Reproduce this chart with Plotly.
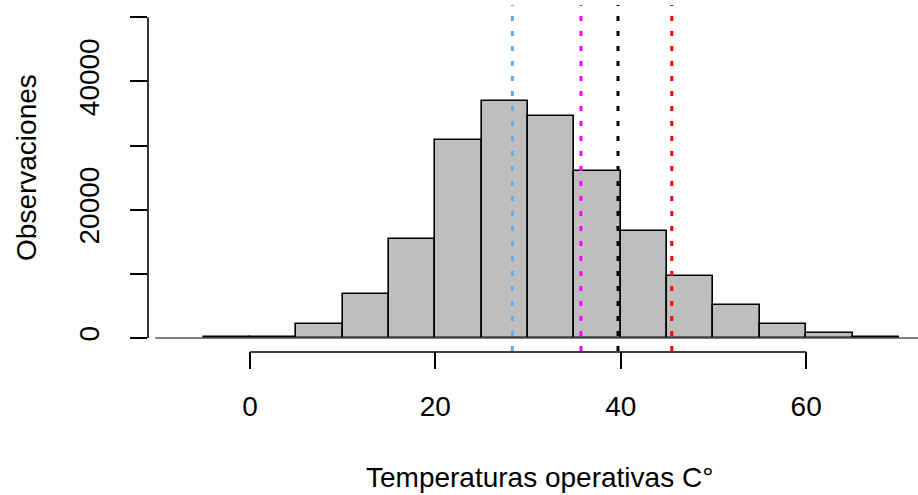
import plotly.graph_objects as go

# Histogram bins (temperature, °C) and counts
bin_edges = [-5, 0, 5, 10, 15, 20, 25, 30, 35, 40, 45, 50, 55, 60, 65, 70]
counts = [150, 200, 2150, 6800, 15450, 30900, 36950, 34600, 26050,
          16700, 9700, 5100, 2150, 750, 200]

# Reference vertical lines (temperature values) and colours
vline_values = [28.3, 35.7, 39.7, 45.5]
vline_colors = ["#5CACEE", "#FF00FF", "#000000", "#FF0000"]

x_tick_vals = [0, 20, 40, 60]
y_tick_vals = [0, 10000, 20000, 30000, 40000, 50000]
y_tick_text = ["0", "", "20000", "", "40000", ""]

x_title = "Temperaturas operativas C°"
y_title = "Observaciones"

centers = [(a + b) / 2 for a, b in zip(bin_edges[:-1], bin_edges[1:])]
widths = [b - a for a, b in zip(bin_edges[:-1], bin_edges[1:])]

FONT = "Liberation Sans, Arial, sans-serif"
FS = 28

fig = go.Figure()
fig.add_trace(go.Bar(
    x=centers, y=counts, width=widths,
    marker=dict(color="#BEBEBE", line=dict(color="#000000", width=1.6)),
    hoverinfo="x+y", showlegend=False,
))

shapes = []
# baseline at 0
shapes.append(dict(type="line", xref="x", yref="y", x0=-10.2, x1=80, y0=0, y1=0,
                   line=dict(color="#555555", width=1.6), layer="above"))
# dotted reference lines
for v, c in zip(vline_values, vline_colors):
    shapes.append(dict(type="line", xref="x", yref="y domain", x0=v, x1=v, y0=0, y1=1,
                       line=dict(color=c, width=3, dash="5px,10px"), layer="above"))
# R-style axis lines spanning first to last tick
shapes.append(dict(type="line", xref="paper", yref="y", x0=0, x1=0,
                   y0=y_tick_vals[0], y1=y_tick_vals[-1],
                   line=dict(color="#000000", width=1.6)))
shapes.append(dict(type="line", xref="x", yref="paper", x0=x_tick_vals[0], x1=x_tick_vals[-1],
                   y0=-0.003, y1=-0.003,
                   line=dict(color="#000000", width=1.6)))

fig.update_layout(
    width=918, height=495,
    margin=dict(l=148, r=0, t=5, b=144, pad=0),
    paper_bgcolor="white", plot_bgcolor="white",
    font=dict(family=FONT, size=FS, color="#000000"),
    bargap=0,
    shapes=shapes,
    xaxis=dict(range=[-11.0, 72.06], tickvals=x_tick_vals,
               ticks="outside", ticklen=17, tickwidth=1.6, tickcolor="#000000",
               showgrid=False, zeroline=False, showline=False,
               tickfont=dict(family=FONT, size=FS, color="#000000"),
               ticklabelstandoff=13),
    yaxis=dict(range=[-2027, 51918], tickvals=y_tick_vals, ticktext=y_tick_text,
               ticks="outside", ticklen=17, tickwidth=1.6, tickcolor="#000000",
               tickangle=-90,
               showgrid=False, zeroline=False, showline=False,
               tickfont=dict(family=FONT, size=FS, color="#000000"),
               ticklabelstandoff=20),
    annotations=[
        dict(text=x_title, xref="paper", yref="paper", x=0.509, y=-0.367,
             xanchor="center", yanchor="middle", showarrow=False,
             font=dict(family=FONT, size=FS, color="#000000")),
        dict(text=y_title, xref="paper", yref="paper", x=-0.158, y=0.53,
             xanchor="center", yanchor="middle", showarrow=False, textangle=-90,
             font=dict(family=FONT, size=FS, color="#000000")),
    ],
)

fig.write_html("out.html")
